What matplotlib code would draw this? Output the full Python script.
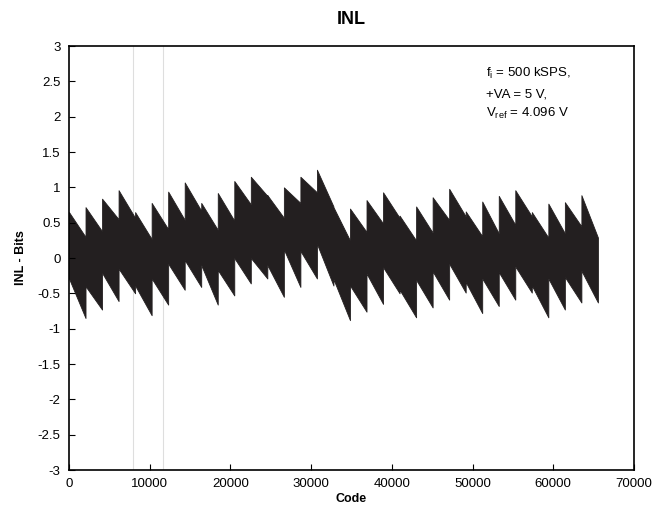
import numpy as np
import matplotlib
matplotlib.use("Agg")
from matplotlib import pyplot as plt

plt.rcParams['font.family'] = ['Liberation Sans', 'DejaVu Sans']
plt.rcParams['mathtext.fontset'] = 'custom'
plt.rcParams['mathtext.rm'] = 'Liberation Sans'

# INL band per 2048-code segment (32 segments)
seg_len = 2048
upper_start = [0.65, 0.72, 0.84, 0.96, 0.65, 0.78, 0.94, 1.07,
               0.78, 0.92, 1.09, 1.15, 0.89, 1.00, 1.15, 1.25,
               0.72, 0.70, 0.82, 0.93, 0.60, 0.73, 0.86, 0.98,
               0.66, 0.80, 0.88, 0.96, 0.65, 0.77, 0.79, 0.89]
upper_end = [0.30, 0.38, 0.55, 0.57, 0.27, 0.41, 0.54, 0.67,
             0.40, 0.53, 0.76, 0.88, 0.57, 0.78, 0.93, 0.73,
             0.25, 0.37, 0.49, 0.57, 0.25, 0.36, 0.54, 0.59,
             0.31, 0.35, 0.47, 0.59, 0.29, 0.35, 0.45, 0.29]
lower_start = [-0.29, -0.40, -0.21, -0.15, -0.39, -0.29, -0.08, -0.03,
               -0.10, -0.17, 0.00, 0.00, -0.10, 0.12, 0.10, 0.20,
               -0.30, -0.39, -0.22, -0.13, -0.45, -0.31, -0.19, -0.08,
               -0.34, -0.29, -0.20, -0.12, -0.39, -0.29, -0.27, -0.18]
lower_end = [-0.85, -0.73, -0.61, -0.50, -0.81, -0.66, -0.45, -0.41,
             -0.66, -0.53, -0.36, -0.29, -0.55, -0.41, -0.29, -0.39,
             -0.88, -0.76, -0.65, -0.50, -0.84, -0.70, -0.59, -0.49,
             -0.78, -0.68, -0.59, -0.49, -0.84, -0.73, -0.63, -0.63]

# faint vertical lines seen in the original
faint_codes = [7950, 11680]

note_lines = [r'f$_\mathregular{i}$ = 500 kSPS,',
              '+VA = 5 V,',
              r'V$_\mathregular{ref}$ = 4.096 V']

codes, up, lo = [], [], []
for k in range(len(upper_start)):
    codes += [k * seg_len, (k + 1) * seg_len - 1]
    up += [upper_start[k], upper_end[k]]
    lo += [lower_start[k], lower_end[k]]
codes = np.array(codes)

fig = plt.figure(figsize=(6.59, 5.14), dpi=100)
ax = fig.add_axes([0.1047, 0.0856, 0.8573, 0.8249])

for c in faint_codes:
    ax.axvline(c, color='#dedede', lw=0.8, zorder=0)

ax.fill_between(codes, lo, up, color='#231f20', lw=0.6, edgecolor='#231f20')

ax.set_xlim(0, 70000)
ax.set_ylim(-3, 3)
ax.set_xticks(np.arange(0, 70001, 10000))
ax.set_yticks(np.arange(-3, 3.01, 0.5))
ax.set_yticklabels(['%g' % v for v in np.arange(-3, 3.01, 0.5)])
ax.tick_params(direction='in', length=4, width=0.8, labelsize=9.5,
               top=False, right=False, pad=6)
for s in ax.spines.values():
    s.set_linewidth(1.2)

ax.set_title('INL', fontsize=13, fontweight='bold', pad=16)
ax.set_xlabel('Code', fontsize=9, fontweight='bold', labelpad=2)
ax.set_ylabel('INL - Bits', fontsize=9, fontweight='bold', labelpad=8)

ypos = [0.936, 0.885, 0.842]
for t, yy in zip(note_lines, ypos):
    ax.text(0.738, yy, t, transform=ax.transAxes, fontsize=9.5, va='center')

fig.savefig('out.png', dpi=100)
